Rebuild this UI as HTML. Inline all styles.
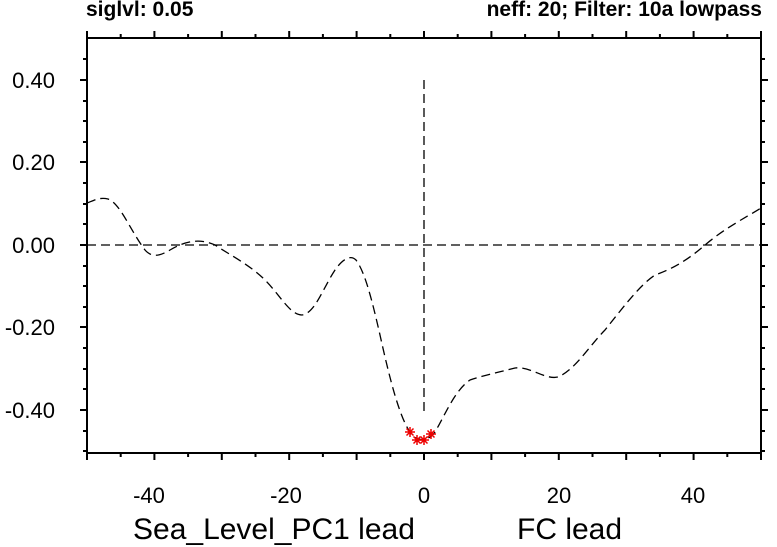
<!DOCTYPE html>
<html><head><style>body{margin:0;background:#fff}svg{display:block}</style></head><body>
<svg width="777" height="547" xmlns="http://www.w3.org/2000/svg" font-family="Liberation Sans, sans-serif">
<g stroke="#000" stroke-width="2" fill="none">
<rect x="87" y="38" width="674" height="415"/>
</g>
<g stroke="#000" stroke-width="2">
<path d="M87,38v-7M120.7,38v-4M154.4,38v-7M188.1,38v-4M221.8,38v-7M255.5,38v-4M289.2,38v-7M322.9,38v-4M356.6,38v-7M390.3,38v-4M424,38v-7M457.7,38v-4M491.4,38v-7M525.1,38v-4M558.8,38v-7M592.5,38v-4M626.2,38v-7M659.9,38v-4M693.6,38v-7M727.3,38v-4M761,38v-7"/>
<path d="M87,453v7M120.7,453v4M154.4,453v7M188.1,453v4M221.8,453v7M255.5,453v4M289.2,453v7M322.9,453v4M356.6,453v7M390.3,453v4M424,453v7M457.7,453v4M491.4,453v7M525.1,453v4M558.8,453v7M592.5,453v4M626.2,453v7M659.9,453v4M693.6,453v7M727.3,453v4M761,453v7"/>
<path d="M87,59h-4M87,80h-7M87,101h-4M87,121h-4M87,142h-4M87,162h-7M87,183h-4M87,204h-4M87,224h-4M87,245h-7M87,266h-4M87,286h-4M87,307h-4M87,327h-7M87,348h-4M87,369h-4M87,389h-4M87,410h-7M87,431h-4M87,451h-4"/>
<path d="M761,59h4M761,80h7M761,101h4M761,121h4M761,142h4M761,162h7M761,183h4M761,204h4M761,224h4M761,245h7M761,266h4M761,286h4M761,307h4M761,327h7M761,348h4M761,369h4M761,389h4M761,410h7M761,431h4M761,451h4"/>
</g>
<g stroke="#000" stroke-width="1.3" fill="none" stroke-dasharray="9,5">
<path d="M87,245H761"/>
<path d="M424,80V415"/>
<path d="M87,203 C95,200 100,197 108,199 C120,203 130,230 145,250 C152,258 160,256 170,250 C185,241 200,238 215,245 C230,255 250,265 265,280 C280,295 290,315 302,315 C315,313 322,290 335,270 C342,260 350,254 356,260 C365,272 372,300 380,335 C390,380 400,420 412,435 C418,441 428,442 435,432 C445,415 455,390 470,380 C485,375 500,372 515,368 C530,366 545,380 558,377 C575,370 590,345 605,330 C625,305 640,285 655,275 C675,268 690,258 705,245 C725,228 745,218 761,208"/>
</g>
<g stroke="#e00" stroke-width="1.5">
<path d="M405,432h10M410,427v10M406.5,428.5l7,7M413.5,428.5l-7,7"/>
<path d="M412,440h10M417,435v10M413.5,436.5l7,7M420.5,436.5l-7,7"/>
<path d="M419,440h10M424,435v10M420.5,436.5l7,7M427.5,436.5l-7,7"/>
<path d="M426,434h10M431,429v10M427.5,430.5l7,7M434.5,430.5l-7,7"/>
</g>
<g font-size="22" text-anchor="end" fill="#000">
<text x="55" y="88">0.40</text><text x="55" y="170">0.20</text><text x="55" y="253">0.00</text><text x="55" y="335">-0.20</text><text x="55" y="418">-0.40</text>
</g>
<g font-size="22" text-anchor="middle" fill="#000">
<text x="149" y="503">-40</text><text x="286" y="503">-20</text><text x="424" y="503">0</text><text x="559" y="503">20</text><text x="693" y="503">40</text>
</g>
<text x="133" y="539" font-size="30">Sea_Level_PC1 lead</text>
<text x="517" y="539" font-size="30">FC lead</text>
<text x="86" y="16" font-size="21" font-weight="bold">siglvl: 0.05</text>
<text x="762" y="16" font-size="21" font-weight="bold" text-anchor="end">neff: 20; Filter: 10a lowpass</text>
</svg>
</body></html>
